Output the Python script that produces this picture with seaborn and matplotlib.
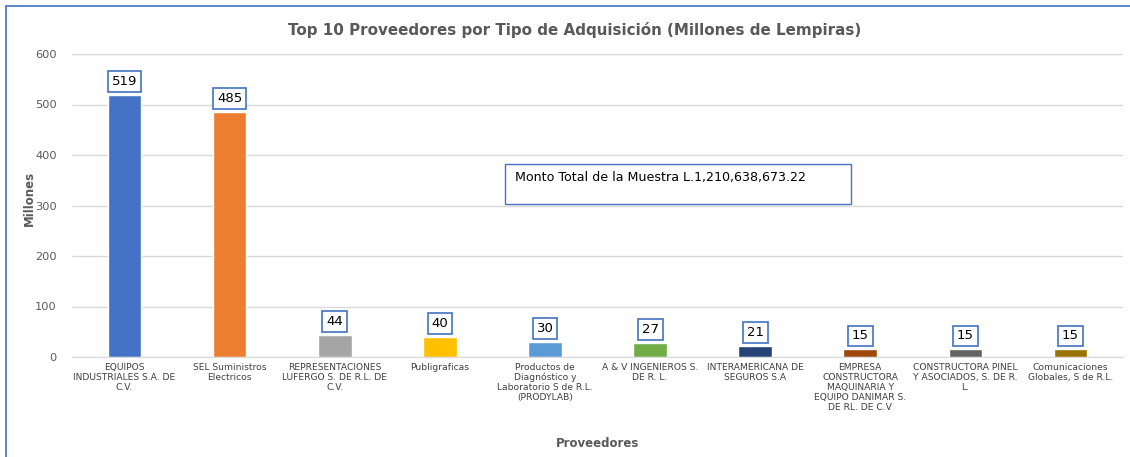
import numpy as np
import pandas as pd
import matplotlib
matplotlib.use('Agg')
import matplotlib.pyplot as plt
import seaborn as sns
from matplotlib.lines import Line2D

# datos
proveedores = [
    'EQUIPOS\nINDUSTRIALES S.A. DE\nC.V.',
    'SEL Suministros\nElectricos',
    'REPRESENTACIONES\nLUFERGO S. DE R.L. DE\nC.V.',
    'Publigraficas',
    'Productos de\nDiagnóstico y\nLaboratorio S de R.L.\n(PRODYLAB)',
    'A & V INGENIEROS S.\nDE R. L.',
    'INTERAMERICANA DE\nSEGUROS S.A',
    'EMPRESA\nCONSTRUCTORA\nMAQUINARIA Y\nEQUIPO DANIMAR S.\nDE RL. DE C.V',
    'CONSTRUCTORA PINEL\nY ASOCIADOS, S. DE R.\nL.',
    'Comunicaciones\nGlobales, S de R.L.',
]
montos = [519, 485, 44, 40, 30, 27, 21, 15, 15, 15]
colores = ['#4472C4', '#ED7D31', '#A5A5A5', '#FFC000', '#5B9BD5',
           '#70AD47', '#264478', '#9E480E', '#636363', '#997300']
titulo = 'Top 10 Proveedores por Tipo de Adquisición (Millones de Lempiras)'
nota = 'Monto Total de la Muestra L.1,210,638,673.22'

df = pd.DataFrame({'Proveedor': proveedores, 'Monto': montos})

sns.set_style('white')
plt.rcParams['font.family'] = ['DejaVu Sans']

W, H = 1130, 457
fig = plt.figure(figsize=(W / 100, H / 100), dpi=100)
ax = fig.add_axes([72 / W, 1 - 357 / H, (1123 - 72) / W, (357 - 54) / H])

sns.barplot(data=df, x='Proveedor', y='Monto', hue='Proveedor', palette=colores,
            width=0.32, legend=False, ax=ax, saturation=1)

ax.set_ylim(0, 600)
ax.set_yticks(range(0, 601, 100))
ax.yaxis.grid(True, color='#D9D9D9', linewidth=1)
ax.set_axisbelow(True)
for s in ['top', 'right', 'left']:
    ax.spines[s].set_visible(False)
ax.spines['bottom'].set_color('#D9D9D9')
ax.tick_params(axis='y', length=0, labelsize=8.2, labelcolor='#595959', pad=11)
ax.tick_params(axis='x', length=0, labelsize=6.6, labelcolor='#404040', pad=4)
ax.set_xticks(range(len(proveedores)))
ax.set_xticklabels(proveedores, linespacing=1.15, va='top')

ax.set_ylabel('Millones', fontsize=8.5, fontweight='bold', color='#595959')
ax.yaxis.set_label_coords(-36 / (1123 - 72), (357 - 198) / (357 - 54))
ax.set_xlabel('Proveedores', fontsize=8.5, fontweight='bold', color='#595959')
ax.xaxis.set_label_coords(0.5, -0.265)

# etiquetas de valor
for i, v in enumerate(montos):
    ax.annotate(str(v), (i, v), xytext=(0, 5), textcoords='offset points',
                ha='center', va='bottom', fontsize=9.5, color='black',
                bbox=dict(boxstyle='square,pad=0.3', fc='white', ec='#4472C4', lw=1.2))

fig.text(575 / W, 1 - 30 / H, titulo, ha='center', va='center', fontsize=10.9,
         fontweight='bold', color='#595959')

# cuadro de texto
fig.patches.append(plt.Rectangle((505 / W, 1 - 204 / H), 346 / W, 40 / H,
                                 transform=fig.transFigure, fill=True, fc='white',
                                 ec='#4472C4', lw=1, zorder=5))
fig.text(515 / W, 1 - 178 / H, nota, ha='left', va='center', fontsize=9.1,
         color='black', zorder=6)

# borde del grafico
fig.add_artist(Line2D([6 / W, 1], [1 - 6 / H, 1 - 6 / H], color='#4472C4', lw=1.2,
                      transform=fig.transFigure))
fig.add_artist(Line2D([6 / W, 6 / W], [0, 1 - 6 / H], color='#4472C4', lw=1.2,
                      transform=fig.transFigure))

fig.savefig('out.png', dpi=100)
